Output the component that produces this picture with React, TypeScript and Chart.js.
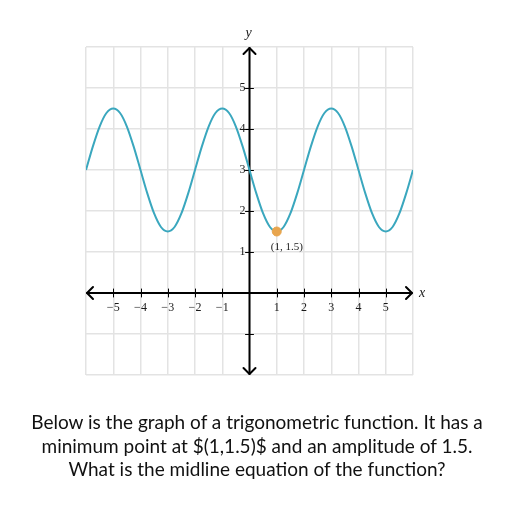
import React, { useEffect, useRef } from "react";
import { Chart, registerables } from "chart.js";

Chart.register(...registerables);

// Curve samples (x step 0.25 from -6 to 6)
const curveX: number[] = [
  -6, -5.75, -5.5, -5.25, -5, -4.75, -4.5, -4.25, -4, -3.75, -3.5, -3.25, -3,
  -2.75, -2.5, -2.25, -2, -1.75, -1.5, -1.25, -1, -0.75, -0.5, -0.25, 0,
  0.25, 0.5, 0.75, 1, 1.25, 1.5, 1.75, 2, 2.25, 2.5, 2.75, 3, 3.25, 3.5,
  3.75, 4, 4.25, 4.5, 4.75, 5, 5.25, 5.5, 5.75, 6,
];
const curveY: number[] = [
  3, 3.57, 4.06, 4.39, 4.5, 4.39, 4.06, 3.57, 3, 2.43, 1.94, 1.61, 1.5,
  1.61, 1.94, 2.43, 3, 3.57, 4.06, 4.39, 4.5, 4.39, 4.06, 3.57, 3,
  2.43, 1.94, 1.61, 1.5, 1.61, 1.94, 2.43, 3, 3.57, 4.06, 4.39, 4.5, 4.39, 4.06,
  3.57, 3, 2.43, 1.94, 1.61, 1.5, 1.61, 1.94, 2.43, 3,
];
const minPoint = { x: 1, y: 1.5 };
const minPointLabel = "(1, 1.5)";
const xTicks: number[] = [-5, -4, -3, -2, -1, 1, 2, 3, 4, 5];
const yTicks: number[] = [-1, 1, 2, 3, 4, 5];
const yTickLabels: number[] = [1, 2, 3, 4, 5];
const xRange = [-6, 6];
const yRange = [-2, 6];
const questionLines: string[] = [
  "Below is the graph of a trigonometric function. It has a",
  "minimum point at $(1,1.5)$ and an amplitude of 1.5.",
  "What is the midline equation of the function?",
];

const fmt = (v: number) => (v < 0 ? "\u2212" + Math.abs(v) : String(v));

const axesPlugin = {
  id: "mathAxes",
  beforeDatasetsDraw(chart: any) {
    const ctx = chart.ctx;
    const xs = chart.scales.x;
    const ys = chart.scales.y;
    const x0 = xs.getPixelForValue(0);
    const y0 = ys.getPixelForValue(0);
    const left = xs.getPixelForValue(xRange[0]);
    const right = xs.getPixelForValue(xRange[1]);
    const top = ys.getPixelForValue(yRange[1]);
    const bottom = ys.getPixelForValue(yRange[0]);
    ctx.save();
    ctx.strokeStyle = "#000";
    ctx.lineWidth = 2;
    ctx.lineCap = "round";
    ctx.lineJoin = "round";
    ctx.beginPath();
    ctx.moveTo(left + 1, y0);
    ctx.lineTo(right - 1, y0);
    ctx.moveTo(x0, top + 1);
    ctx.lineTo(x0, bottom - 1);
    ctx.stroke();
    const a = 6;
    ctx.beginPath();
    ctx.moveTo(right - 1 - a, y0 - a);
    ctx.lineTo(right - 1, y0);
    ctx.lineTo(right - 1 - a, y0 + a);
    ctx.moveTo(left + 1 + a, y0 - a);
    ctx.lineTo(left + 1, y0);
    ctx.lineTo(left + 1 + a, y0 + a);
    ctx.moveTo(x0 - a, top + 1 + a);
    ctx.lineTo(x0, top + 1);
    ctx.lineTo(x0 + a, top + 1 + a);
    ctx.moveTo(x0 - a, bottom - 1 - a);
    ctx.lineTo(x0, bottom - 1);
    ctx.lineTo(x0 + a, bottom - 1 - a);
    ctx.stroke();

    ctx.lineWidth = 1;
    ctx.beginPath();
    xTicks.forEach((v) => {
      const px = Math.round(xs.getPixelForValue(v)) + 0.5;
      ctx.moveTo(px, y0 - 4);
      ctx.lineTo(px, y0 + 4);
    });
    yTicks.forEach((v) => {
      const py = Math.round(ys.getPixelForValue(v)) + 0.5;
      ctx.moveTo(x0 - 4, py);
      ctx.lineTo(x0 + 4, py);
    });
    ctx.stroke();

    ctx.fillStyle = "#1a1a1a";
    ctx.font = "12px 'Liberation Serif'";
    ctx.textAlign = "center";
    ctx.textBaseline = "middle";
    xTicks.forEach((v) => {
      ctx.fillText(fmt(v), xs.getPixelForValue(v), y0 + 15);
    });
    ctx.textAlign = "right";
    yTickLabels.forEach((v) => {
      ctx.fillText(fmt(v), x0 - 4, ys.getPixelForValue(v));
    });
    ctx.font = "italic 14px 'Liberation Serif'";
    ctx.textAlign = "center";
    ctx.fillText("y", x0 - 1, top - 14);
    ctx.textAlign = "left";
    ctx.fillText("x", right + 6, y0);
    ctx.restore();
  },
  afterDatasetsDraw(chart: any) {
    const ctx = chart.ctx;
    const xs = chart.scales.x;
    const ys = chart.scales.y;
    ctx.save();
    ctx.fillStyle = "#1a1a1a";
    ctx.font = "11px 'Liberation Serif'";
    ctx.textAlign = "center";
    ctx.textBaseline = "middle";
    ctx.fillText(
      minPointLabel,
      xs.getPixelForValue(minPoint.x) + 10,
      ys.getPixelForValue(minPoint.y) + 16
    );
    ctx.restore();
  },
};

export default function App() {
  const ref = useRef<HTMLCanvasElement | null>(null);
  useEffect(() => {
    if (!ref.current) return;
    const chart = new Chart(ref.current, {
      type: "scatter",
      data: {
        datasets: [
          {
            data: [minPoint],
            backgroundColor: "#e8a54e",
            borderColor: "#e8a54e",
            pointRadius: 4.5,
            order: 0,
          },
          {
            type: "line",
            data: curveX.map((x, i) => ({ x, y: curveY[i] })),
            borderColor: "#3aa7be",
            borderWidth: 2,
            pointRadius: 0,
            tension: 0.4,
            cubicInterpolationMode: "monotone",
            fill: false,
            order: 1,
          } as any,
        ],
      },
      options: {
        responsive: false,
        animation: false,
        layout: { padding: { left: 86, right: 99, top: 47, bottom: 137 } },
        plugins: { legend: { display: false }, tooltip: { enabled: false } },
        scales: {
          x: {
            type: "linear",
            min: xRange[0],
            max: xRange[1],
            ticks: { display: false, stepSize: 1 },
            grid: { color: "#e3e3e3", lineWidth: 1.5, drawTicks: false },
            border: { display: false },
          },
          y: {
            type: "linear",
            min: yRange[0],
            max: yRange[1],
            ticks: { display: false, stepSize: 1 },
            grid: { color: "#e3e3e3", lineWidth: 1.5, drawTicks: false },
            border: { display: false },
          },
        },
      },
      plugins: [axesPlugin],
    });
    return () => chart.destroy();
  }, []);
  return (
    <div style={{ position: "absolute", left: 0, top: 0, width: 512, height: 512 }}>
      <canvas ref={ref} width={512} height={512} style={{ position: "absolute", left: 0, top: 0 }} />
      <div
        style={{
          position: "absolute",
          left: 0,
          top: 410,
          width: 514,
          textAlign: "center",
          fontFamily: "Lato, sans-serif",
          fontSize: 19,
          lineHeight: "23.5px",
          color: "#111",
        }}
      >
        {questionLines.map((l, i) => (
          <div key={i}>{l}</div>
        ))}
      </div>
    </div>
  );
}
